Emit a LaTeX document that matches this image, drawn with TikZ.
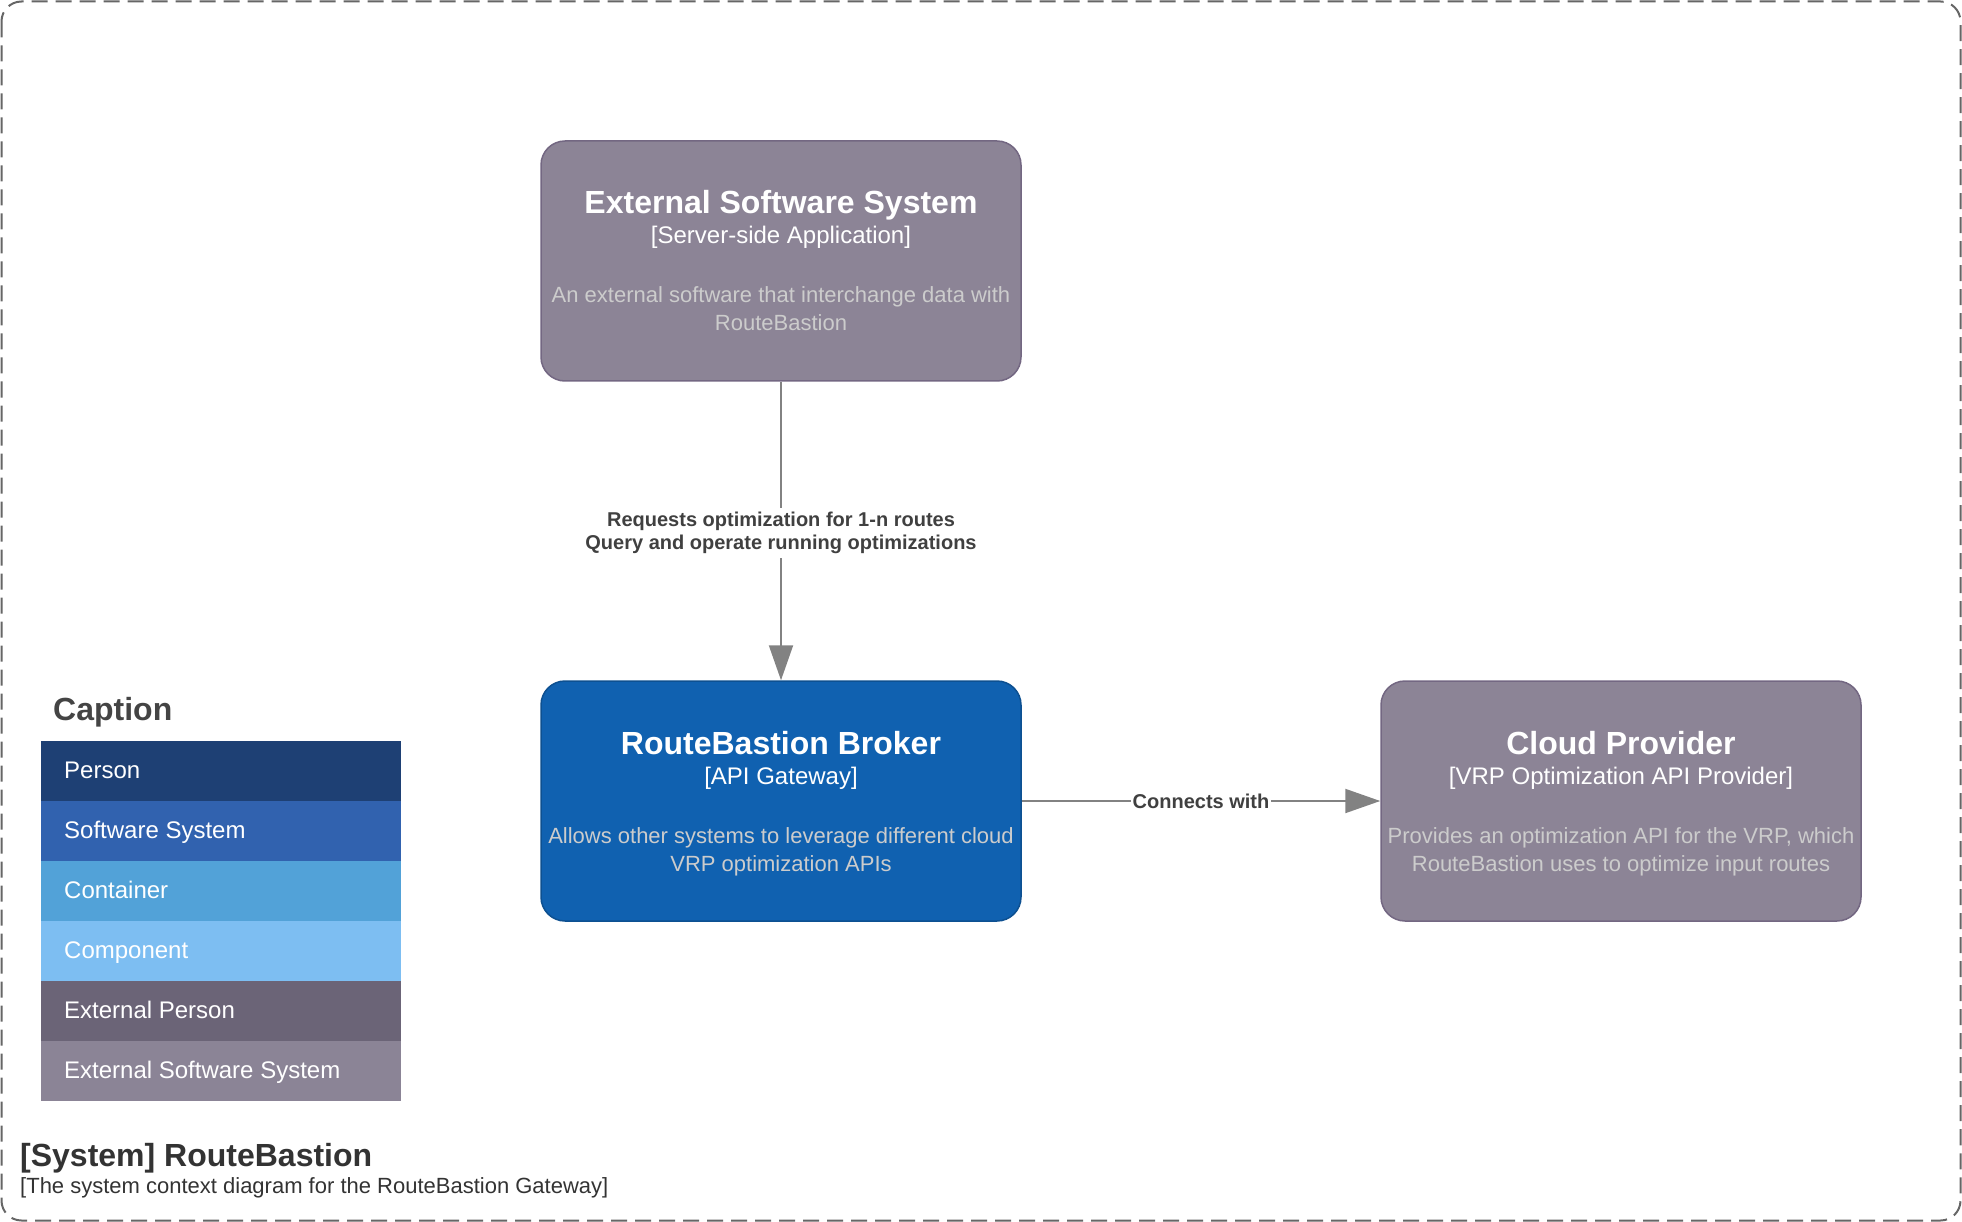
\documentclass[tikz,border=0pt]{standalone}
\usepackage{fontspec}
\setmainfont{Liberation Sans}
\usetikzlibrary{arrows.meta}
\definecolor{extfill}{HTML}{8C8496}
\definecolor{extdraw}{HTML}{736782}
\definecolor{sysfill}{HTML}{1061B0}
\definecolor{sysdraw}{HTML}{0D5091}
\definecolor{desccol}{HTML}{CCCCCC}
\definecolor{edgecol}{HTML}{828282}
\definecolor{labcol}{HTML}{404040}
\definecolor{bordercol}{HTML}{666666}
\definecolor{titlecol}{HTML}{333333}
\definecolor{capcol}{HTML}{444444}
\definecolor{lgperson}{HTML}{1E4074}
\definecolor{lgsystem}{HTML}{3162AF}
\definecolor{lgcontainer}{HTML}{52A2D8}
\definecolor{lgcomponent}{HTML}{7DBEF2}
\definecolor{lgextperson}{HTML}{6B6477}
\definecolor{lgextsystem}{HTML}{8B8496}
\tikzset{
  boundary/.style={draw=bordercol, line width=2pt, dash pattern=on 16pt off 8pt, rounded corners=20pt},
  boxext/.style={draw=extdraw, fill=extfill, line width=1.5pt, rounded corners=24pt, minimum width=480pt, minimum height=240pt, inner sep=0pt},
  boxsys/.style={boxext, draw=sysdraw, fill=sysfill},
  ttl/.style={anchor=base, inner sep=0pt, text=white, font=\fontsize{32}{38}\selectfont\bfseries},
  subt/.style={anchor=base, inner sep=0pt, text=white, font=\fontsize{24}{27}\selectfont},
  desc/.style={anchor=base, inner sep=0pt, text=desccol, font=\fontsize{22}{27}\selectfont},
  edge/.style={draw=edgecol, line width=2pt, -{Triangle[length=35pt,width=24pt]}},
  elabel/.style={fill=white, text=labcol, font=\fontsize{20}{23.5}\selectfont\bfseries, align=center, inner xsep=2pt, inner ysep=4pt},
  legrow/.style={anchor=north west, minimum width=360pt, minimum height=60pt, inner sep=0pt, outer sep=0pt},
  legtxt/.style={anchor=base west, inner sep=0pt, text=white, font=\fontsize{24}{27}\selectfont},
}
\begin{document}
\begin{tikzpicture}[x=1pt,y=-1pt]
\useasboundingbox (0,0) rectangle (1962,1222);
\draw[boundary] (1.5,1.5) rectangle (1960.5,1220.5);

% External Software System
\node[boxext] (ess) at (781,261) {};
\node[ttl] (esst) at (781,214) {External Software System};
\node[subt] (esss) at (781,244) {[Server-side Application]};
\node[desc] (essd1) at (781,303) {An external software that interchange data with};
\node[desc] (essd2) at (781,331) {RouteBastion};

% RouteBastion Broker
\node[boxsys] (rbb) at (781,801) {};
\node[ttl] (rbbt) at (781,754) {RouteBastion Broker};
\node[subt] (rbbs) at (781,784) {[API Gateway]};
\node[desc] (rbbd1) at (781,843) {Allows other systems to leverage different cloud};
\node[desc] (rbbd2) at (781,871) {VRP optimization APIs};

% Cloud Provider
\node[boxext] (cp) at (1621,801) {};
\node[ttl] (cpt) at (1621,754) {Cloud Provider};
\node[subt] (cps) at (1621,784) {[VRP Optimization API Provider]};
\node[desc] (cpd1) at (1621,843) {Provides an optimization API for the VRP, which};
\node[desc] (cpd2) at (1621,871) {RouteBastion uses to optimize input routes};

% connectors
\draw[edge] (ess) -- node[elabel, yshift=-2pt] (lab1) {Requests optimization for 1-n routes\\Query and operate running optimizations} (rbb);
\draw[edge] (rbb) -- node[elabel] (lab2) {Connects with} (cp);

% legend
\node[anchor=base west, inner sep=0pt, text=capcol, font=\fontsize{32}{38}\selectfont\bfseries] (captitle) at (53,720) {Caption};
\node[legrow, fill=lgperson] (lg1) at (41,741) {};
\node[legrow, fill=lgsystem] (lg2) at (41,801) {};
\node[legrow, fill=lgcontainer] (lg3) at (41,861) {};
\node[legrow, fill=lgcomponent] (lg4) at (41,921) {};
\node[legrow, fill=lgextperson] (lg5) at (41,981) {};
\node[legrow, fill=lgextsystem] (lg6) at (41,1041) {};
\node[legtxt] (lgt1) at (64,778) {Person};
\node[legtxt] (lgt2) at (64,838) {Software System};
\node[legtxt] (lgt3) at (64,898) {Container};
\node[legtxt] (lgt4) at (64,958) {Component};
\node[legtxt] (lgt5) at (64,1018) {External Person};
\node[legtxt] (lgt6) at (64,1078) {External Software System};

% diagram title
\node[anchor=base west, inner sep=0pt, text=titlecol, font=\fontsize{32}{38}\selectfont\bfseries] (dtitle) at (20,1166) {[System] RouteBastion};
\node[anchor=base west, inner sep=0pt, text=titlecol, font=\fontsize{22}{27}\selectfont] (dsub) at (20,1193) {[The system context diagram for the RouteBastion Gateway]};
\end{tikzpicture}
\end{document}
